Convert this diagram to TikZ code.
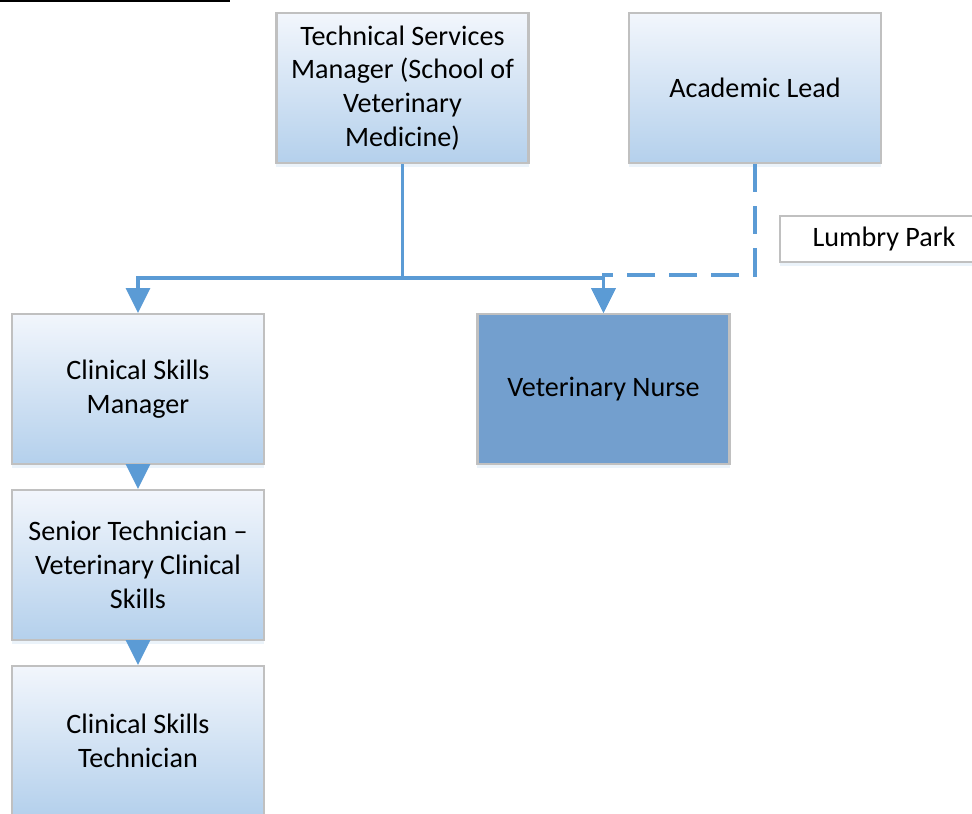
\documentclass[tikz,border=0pt]{standalone}
\usepackage{fontspec}
\setmainfont{Carlito}
\usetikzlibrary{arrows.meta,shadows}
\definecolor{linkblue}{HTML}{5B9BD5}
\definecolor{boxtop}{HTML}{F2F6FC}
\definecolor{boxbottom}{HTML}{B4D0EC}
\definecolor{boxline}{HTML}{C0C0C0}
\definecolor{nursefill}{HTML}{739FCE}
\tikzset{
  frame/.style={draw=boxline, line width=1.5pt, align=center, inner sep=0pt,
    font=\fontsize{20}{24}\selectfont,
    drop shadow={shadow xshift=0pt, shadow yshift=-3pt, opacity=0.12, fill=linkblue}},
  post/.style={frame, top color=boxtop, bottom color=boxbottom,
    minimum width=6.3cm, minimum height=3.75cm},
  vacancy/.style={frame, fill=nursefill, minimum width=6.3cm, minimum height=3.75cm},
  site/.style={frame, fill=white, minimum width=5.2cm, minimum height=1.15cm},
  link/.style={draw=linkblue, line width=2.2pt, -{Triangle[width=0.6cm,length=0.62cm]}},
  dotted link/.style={link, dash pattern=on 20pt off 10pt}
}
\begin{document}
\begin{tikzpicture}[x=0.025cm,y=-0.025cm]
\useasboundingbox (0,0) rectangle (972,814);
\draw[black, line width=1.5pt] (0,1) -- (230,1);
\node[post] (tsm) at (402.5,88) {Technical Services\\Manager (School of\\Veterinary\\Medicine)};
\node[post] (lead) at (755,88) {Academic Lead};
\node[site] (lumbry) at (884,239) {Lumbry Park};
\node[post] (csm) at (138,389) {Clinical Skills\\Manager};
\node[vacancy] (nurse) at (603.5,389) {Veterinary Nurse};
\node[post] (senior) at (138,565) {Senior Technician --\\Veterinary Clinical\\Skills};
\node[post] (cst) at (138,741) {Clinical Skills\\Technician};
\coordinate (hub) at (402.5,278);
\coordinate (bend) at (603.5,275);
\draw[link] (tsm.south) -- (hub) -| (csm.north);
\draw[link] (hub) -| (nurse.north);
\draw[dotted link] (lead.south) |- (bend) -- (nurse.north);
\draw[link] (csm.south) -- (senior.north);
\draw[link] (senior.south) -- (cst.north);
\end{tikzpicture}
\end{document}
